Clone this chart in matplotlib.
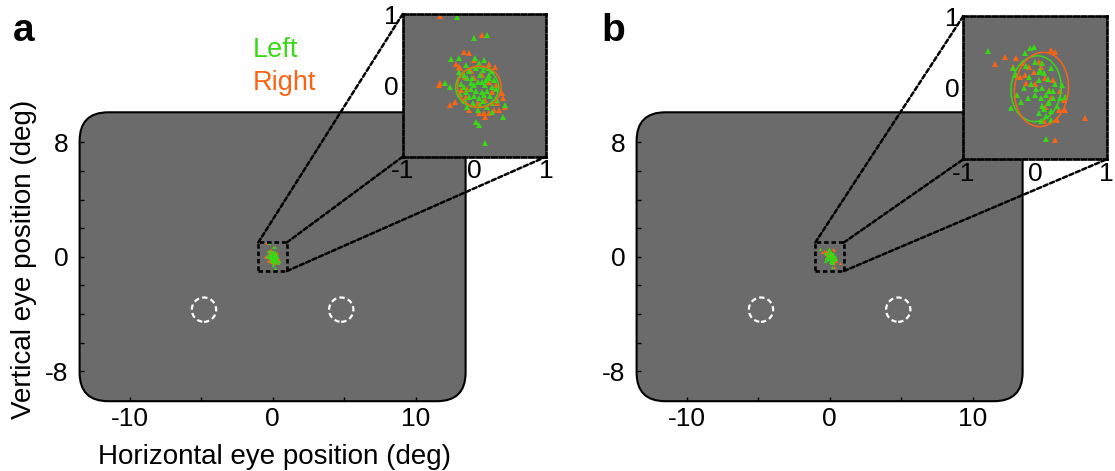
import matplotlib
matplotlib.use('Agg')
import matplotlib.pyplot as plt
from matplotlib.patches import FancyBboxPatch, Ellipse, Rectangle, ConnectionPatch

plt.rcParams['font.family'] = ['Liberation Sans', 'DejaVu Sans']
plt.rcParams['axes.unicode_minus'] = False

# ---------------- data ----------------
# fixation samples (deg), panel a
LEFT_A = [(0.00, 0.67), (0.17, 0.71), (-0.32, 0.37), (-0.21, 0.38), (0.01, 0.38), (0.14, 0.35),
          (-0.11, 0.28), (0.06, 0.31), (-0.22, 0.19), (-0.34, -0.02), (-0.41, 0.03), (0.03, -0.52),
          (0.06, -0.55), (0.40, -0.44), (0.15, -0.81), (0.43, -0.27), (0.24, -0.38), (0.20, 0.14),
          (-0.24, 0.96),
          (0.00, 0.00), (0.05, 0.05), (-0.05, -0.05), (0.10, -0.10), (-0.10, 0.10), (0.15, 0.00),
          (0.00, -0.15), (-0.12, -0.10), (0.20, 0.10), (0.08, 0.15), (-0.08, 0.20), (0.22, -0.15),
          (0.12, -0.22), (-0.02, -0.25), (0.18, -0.30), (0.30, -0.05), (0.28, 0.08), (-0.18, 0.02),
          (-0.20, -0.12), (0.05, -0.35), (-0.10, -0.30), (0.25, -0.25), (0.32, -0.20), (0.02, 0.25),
          (0.12, 0.22), (-0.15, 0.15), (0.10, 0.05), (-0.03, 0.10), (0.18, -0.08), (0.06, -0.18),
          (-0.07, -0.17), (0.20, 0.25), (0.25, 0.20), (-0.13, -0.22), (0.03, -0.08), (0.14, -0.14),
          (0.24, -0.02), (-0.05, 0.03), (0.08, -0.28), (0.16, 0.07), (-0.15, -0.02)]
RIGHT_A = [(0.10, 0.71), (-0.48, 0.97), (-0.15, 0.47), (-0.08, 0.45), (-0.22, 0.26), (-0.48, 0.03),
           (-0.50, 0.00), (-0.34, -0.27), (-0.27, -0.23), (-0.08, -0.34), (0.06, -0.39), (0.40, -0.18),
           (0.43, -0.30), (0.27, -0.34), (0.29, 0.26), (-0.18, -0.07), (-0.11, -0.16), (0.13, -0.39),
           (0.31, -0.25), (0.20, -0.39), (-0.20, 0.24), (-0.01, 0.35), (-0.13, 0.12), (0.38, -0.11),
           (0.00, 0.10), (0.15, -0.20), (-0.10, -0.05), (0.20, 0.05), (0.05, -0.25), (0.25, -0.10),
           (-0.05, 0.20), (0.10, 0.15), (0.30, 0.00), (-0.15, -0.20), (0.35, -0.35), (0.15, -0.45),
           (-0.25, 0.30), (0.20, 0.30)]
# panel b
LEFT_B = [(-0.66, 0.51), (-0.07, 0.55), (-0.02, 0.57), (-0.14, 0.48), (-0.30, 0.27), (-0.26, 0.18),
          (0.07, 0.25), (0.00, 0.36), (0.23, 0.27), (-0.33, -0.29), (0.16, -0.71), (0.09, -0.47),
          (0.23, -0.45), (0.42, -0.13), (0.37, 0.04),
          (0.05, 0.10), (0.10, 0.00), (0.15, -0.10), (0.20, -0.20), (0.00, -0.10), (-0.05, 0.05),
          (0.10, -0.25), (0.25, -0.05), (0.18, 0.12), (0.08, -0.15), (0.30, -0.25), (-0.10, -0.15),
          (0.12, 0.20), (0.22, -0.32), (0.05, -0.35), (-0.08, 0.15), (0.15, -0.40), (0.28, 0.05),
          (0.02, -0.02), (-0.15, 0.00), (0.35, -0.15), (0.10, 0.35), (-0.12, 0.30), (0.20, -0.05),
          (0.25, -0.15), (0.12, -0.30), (-0.20, -0.20), (-0.25, -0.10), (0.18, -0.22), (0.06, 0.22)]
RIGHT_B = [(-0.56, 0.33), (-0.42, 0.43), (-0.26, 0.42), (0.23, 0.53), (0.28, 0.50), (0.70, -0.42),
           (0.28, -0.73), (0.42, -0.31), (-0.09, 0.29), (-0.21, 0.15), (0.14, 0.13), (0.05, 0.36),
           (0.23, -0.15), (0.14, -0.27), (0.30, -0.45), (0.12, -0.47), (-0.14, 0.18), (-0.12, 0.06),
           (0.40, -0.17), (0.19, -0.03), (-0.02, 0.22), (0.33, -0.31), (-0.30, 0.29), (0.09, 0.29),
           (0.25, 0.10), (0.35, -0.05), (0.00, 0.05), (-0.18, 0.35)]
# fitted ellipses: (cx, cy, semi-x, semi-y, angle)
ELL_LEFT_A = (0.04, -0.03, 0.30, 0.28, 0)
ELL_RIGHT_A = (0.07, -0.02, 0.305, 0.29, 0)
ELL_LEFT_B = (0.015, -0.015, 0.35, 0.46, -5)
ELL_RIGHT_B = (0.09, -0.025, 0.375, 0.52, -6)
# target locations (deg)
TARGETS_X = [-4.8, 4.8]
TARGETS_Y = [-3.7, -3.7]
TARGET_R = 0.85

X_TICKS = [-10, 0, 10]
X_MINOR = [-5, 5]
Y_TICKS = [-8, 0, 8]
Y_MINOR = [-6, -4, -2, 2, 4, 6]
INSET_XTICKS = [-1, 0, 1]
INSET_YTICKS = [0, 1]

# ---------------- style ----------------
W, H = 1115, 471
GRAY = '#6b6b6b'
GREEN = '#38d817'
ORANGE = '#f96514'
DASH = (0, (1.7, 1.1))
TICK_FS = 19
LABEL_FS = 20

fig = plt.figure(figsize=(W / 100, H / 100), dpi=100)


def fx(px):
    return px / W


def fy(py):
    return 1 - py / H


def draw_panel(main_left, inset_box, left_pts, right_pts, ell_l, ell_r):
    ax = fig.add_axes([fx(main_left), fy(401.2), 386 / W, 288.9 / H])
    ax.set_xlim(-13.5, 13.5)
    ax.set_ylim(-10.1, 10.1)
    ax.patch.set_visible(False)
    for s in ax.spines.values():
        s.set_visible(False)
    screen = FancyBboxPatch((-13.5, -10.1), 27, 20.2,
                            boxstyle='round,pad=0,rounding_size=2.0',
                            fc=GRAY, ec='black', lw=1.5, clip_on=False, zorder=0.5)
    ax.add_patch(screen)
    ax.set_xticks(X_TICKS)
    ax.set_xticks(X_MINOR, minor=True)
    ax.set_yticks(Y_TICKS)
    ax.set_yticks(Y_MINOR, minor=True)
    ax.tick_params(which='both', direction='in', length=3, width=1, color='black')
    ax.tick_params(axis='x', labelsize=TICK_FS, pad=4)
    ax.tick_params(axis='y', labelsize=TICK_FS, pad=8)

    for tx, ty in zip(TARGETS_X, TARGETS_Y):
        ax.add_patch(Ellipse((tx, ty), 2 * TARGET_R, 2 * TARGET_R, fill=False, ec='white',
                             lw=1.6, ls=(0, (2.4, 1.5)), zorder=2))

    ax.plot([p[0] for p in right_pts], [p[1] for p in right_pts], ls='none', marker='^',
            ms=2.2, mew=0, color=ORANGE, zorder=2)
    ax.plot([p[0] for p in left_pts], [p[1] for p in left_pts], ls='none', marker='^',
            ms=2.2, mew=0, color=GREEN, zorder=2.1)
    ax.add_patch(Rectangle((-1, -1), 2, 2, fill=False, ec='black', lw=1.9, ls=DASH, zorder=3))

    # inset
    ix0, iy1, iw, ih = inset_box
    axi = fig.add_axes([fx(ix0), fy(iy1), iw / W, ih / H])
    axi.set_facecolor(GRAY)
    axi.set_xlim(-1, 1)
    axi.set_ylim(-1, 1)
    for s in axi.spines.values():
        s.set_linestyle(DASH)
        s.set_linewidth(1.9)
        s.set_color('black')
    axi.set_xticks(INSET_XTICKS)
    axi.set_yticks(INSET_YTICKS)
    axi.tick_params(length=0, labelsize=TICK_FS)
    axi.tick_params(axis='x', pad=2)
    axi.tick_params(axis='y', pad=3)
    axi.plot([p[0] for p in right_pts], [p[1] for p in right_pts], ls='none', marker='^',
             ms=4, mew=0, color=ORANGE, zorder=2)
    axi.plot([p[0] for p in left_pts], [p[1] for p in left_pts], ls='none', marker='^',
             ms=4, mew=0, color=GREEN, zorder=2.1)
    for (cx, cy, a, b, ang), col in ((ell_l, GREEN), (ell_r, ORANGE)):
        axi.add_patch(Ellipse((cx, cy), 2 * a, 2 * b, angle=ang, fill=False, ec=col, lw=1.1,
                              zorder=3))

    for xyA, xyB in (((-1, 1), (0, 1)), ((1, 1), (0, 0)), ((1, -1), (1, 0))):
        cp = ConnectionPatch(xyA=xyA, coordsA='data', axesA=ax,
                             xyB=xyB, coordsB='axes fraction', axesB=axi,
                             color='black', lw=1.8, ls=DASH, zorder=1)
        fig.add_artist(cp)
    return ax, axi


ax_a, axi_a = draw_panel(79.6, (402.7, 156.7, 143.3, 142.7), LEFT_A, RIGHT_A, ELL_LEFT_A, ELL_RIGHT_A)
ax_b, axi_b = draw_panel(636.6, (963.3, 159.3, 143.4, 143.3), LEFT_B, RIGHT_B, ELL_LEFT_B, ELL_RIGHT_B)

fig.text(fx(275), fy(464), 'Horizontal eye position (deg)', fontsize=LABEL_FS, ha='center',
         va='baseline')
fig.text(fx(24), fy(259), 'Vertical eye position (deg)', fontsize=LABEL_FS, ha='center',
         va='center', rotation=90)
fig.text(fx(253), fy(57.3), 'Left', color=GREEN, fontsize=19.5, va='baseline')
fig.text(fx(253), fy(90), 'Right', color=ORANGE, fontsize=19.5, va='baseline')
fig.text(fx(13), fy(41), 'a', fontsize=28, fontweight='bold', va='baseline')
fig.text(fx(601), fy(41), 'b', fontsize=28, fontweight='bold', va='baseline')

fig.savefig('out.png', dpi=100)
